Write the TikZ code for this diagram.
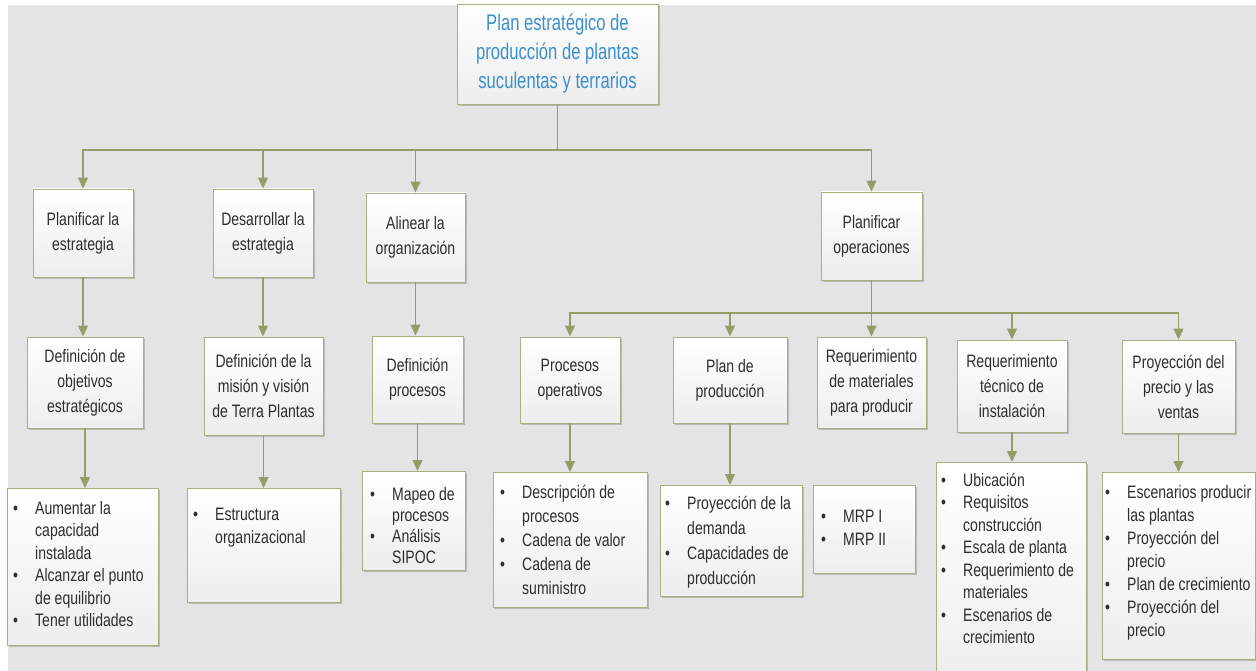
\documentclass[tikz,border=0pt]{standalone}
\usepackage{fontspec}
\setmainfont{Liberation Sans}[FakeStretch=0.78]
\newfontfamily\titlefont{Liberation Sans}[FakeStretch=0.74]
\usetikzlibrary{arrows.meta,shadows}

\definecolor{bgc}{HTML}{E4E4E4}
\definecolor{edge}{HTML}{A9AF80}
\definecolor{conn}{HTML}{939D68}
\definecolor{ink}{HTML}{2E2E2E}
\definecolor{titleblue}{HTML}{3A8FD0}

% bullet and continuation indent for the list boxes
\newcommand\bul{\makebox[22pt][l]{\textbullet}}
\newcommand\cnt{\hspace*{22pt}}

\tikzset{
  sz/.style n args={2}{minimum width=#1pt, minimum height=#2pt},
  frame/.style={draw=edge, line width=0.9pt, top color=white,
    bottom color=white!93!black, inner sep=0pt,
    drop shadow={shadow xshift=1.6pt, shadow yshift=-1.6pt, opacity=0.28, fill=black!70}},
  box/.style={frame, align=center, text=ink,
    font=\fontsize{18}{25}\selectfont},
  titlebox/.style={frame, align=center, text=titleblue,
    font=\titlefont\fontsize{22.5}{29}\selectfont},
  btxt/.style={anchor=north west, inner sep=0pt, align=left, text=ink,
    font=\fontsize{18}{22.5}\selectfont,
    execute at begin node={\rule{0pt}{13pt}}},
  arr/.style={draw=conn, line width=1.1pt,
    -{Triangle[width=10pt,length=11pt,fill=conn]}},
}

\begin{document}
\begin{tikzpicture}[x=1pt,y=-1pt]
\useasboundingbox (0,0) rectangle (1256,671);
\fill[white] (0,0) rectangle (1256,671);
\fill[bgc] (8,5) rectangle (1256,671);

\coordinate (bus) at (0,150);
\coordinate (bus2) at (0,313);

% root
\node[titlebox, sz={201}{100}] (top) at (557.5,54)
  {Plan estratégico de\\producción de plantas\\suculentas y terrarios};

% first level
\node[box, sz={100}{88}] (n1) at (83,233) {Planificar la\\estrategia};
\node[box, sz={100}{88}] (n2) at (263,233) {Desarrollar la\\estrategia};
\node[box, sz={99}{89}] (n3) at (415.5,237.5) {Alinear la\\organización};
\node[box, sz={101}{88}] (n4) at (871.5,236) {Planificar\\operaciones};

% second level
\node[box, sz={116}{91}] (m1) at (85,382.5) {Definición de\\objetivos\\estratégicos};
\node[box, sz={119}{98}] (m2) at (263.5,386) {Definición de la\\misión y visión\\de Terra Plantas};
\node[box, sz={91}{87}] (m3) at (417.5,379.5) {Definición\\procesos};

\node[box, sz={100}{86}] (p1) at (570,380) {Procesos\\operativos};
\node[box, sz={114}{86}] (p2) at (730,380) {Plan de\\producción};
\node[box, sz={109}{91}] (p3) at (871.5,382.5) {Requerimiento\\de materiales\\para producir};
\node[box, sz={110}{92}] (p4) at (1012,386) {Requerimiento\\técnico de\\instalación};
\node[box, sz={113}{93}] (p5) at (1178.5,386.5) {Proyección del\\precio y las\\ventas};

% list boxes
\node[frame, anchor=north west, sz={151}{157}] (b1) at (7,488) {};
\node[btxt] (b1t) at (13,501)
  {\bul Aumentar la\\\cnt capacidad\\\cnt instalada\\\bul Alcanzar el punto\\\cnt de equilibrio\\\bul Tener utilidades};

\node[frame, anchor=north west, sz={153}{114}] (b2) at (187,488) {};
\node[btxt] (b2t) at (193,508) {\bul Estructura\\\cnt organizacional};

\node[frame, anchor=north west, sz={103}{99}] (b3) at (362,471) {};
\node[btxt, font=\fontsize{18}{21}\selectfont] (b3t) at (370,487)
  {\bul Mapeo de\\\cnt procesos\\\bul Análisis\\\cnt SIPOC};

\node[frame, anchor=north west, sz={154}{135}] (b4) at (493,472) {};
\node[btxt, font=\fontsize{18}{24}\selectfont] (b4t) at (500,485)
  {\bul Descripción de\\\cnt procesos\\\bul Cadena de valor\\\bul Cadena de\\\cnt suministro};

\node[frame, anchor=north west, sz={142}{111}] (b5) at (660,485) {};
\node[btxt, font=\fontsize{18}{25}\selectfont] (b5t) at (665,496)
  {\bul Proyección de la\\\cnt demanda\\\bul Capacidades de\\\cnt producción};

\node[frame, anchor=north west, sz={102}{88}] (b6) at (813,485) {};
\node[btxt, font=\fontsize{18}{23}\selectfont] (b6t) at (821,510)
  {\bul MRP I\\\bul MRP II};

\node[frame, anchor=north west, sz={150}{230}] (b7) at (936,462) {};
\node[btxt] (b7t) at (941,473)
  {\bul Ubicación\\\bul Requisitos\\\cnt construcción\\\bul Escala de planta\\\bul Requerimiento de\\\cnt materiales\\\bul Escenarios de\\\cnt crecimiento};

\node[frame, anchor=north west, sz={153}{187}] (b8) at (1102,472) {};
\node[btxt, font=\fontsize{18}{23}\selectfont] (b8t) at (1105,485)
  {\bul Escenarios producir\\\cnt las plantas\\\bul Proyección del\\\cnt precio\\\bul Plan de crecimiento\\\bul Proyección del\\\cnt precio};

% connectors from the root
\foreach \n in {n1,n2,n3,n4}
  \draw[arr] (top.south) -- (top.south |- bus) -| (\n.north);

% connectors from the operations box
\foreach \n in {p1,p2,p3,p4,p5}
  \draw[arr] (n4.south) -- (n4.south |- bus2) -| (\n.north);

% straight drops
\draw[arr] (n1.south) -- (n1.south |- m1.north);
\draw[arr] (n2.south) -- (n2.south |- m2.north);
\draw[arr] (n3.south) -- (n3.south |- m3.north);
\draw[arr] (m1.south) -- (m1.south |- b1.north);
\draw[arr] (m2.south) -- (m2.south |- b2.north);
\draw[arr] (m3.south) -- (m3.south |- b3.north);
\draw[arr] (p1.south) -- (p1.south |- b4.north);
\draw[arr] (p2.south) -- (p2.south |- b5.north);
\draw[arr] (p4.south) -- (p4.south |- b7.north);
\draw[arr] (p5.south) -- (p5.south |- b8.north);
\end{tikzpicture}
\end{document}
